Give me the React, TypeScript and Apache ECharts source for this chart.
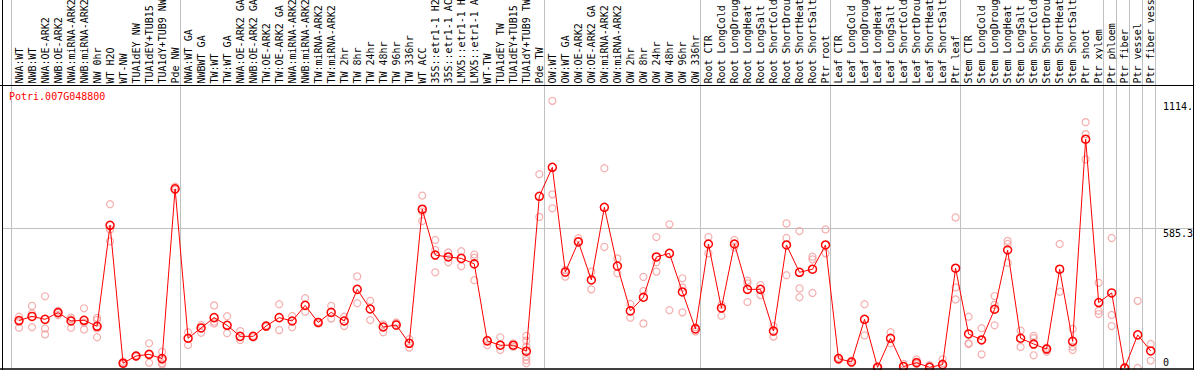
import React, { useEffect, useRef } from "react";
import * as echarts from "echarts";

const geneId = "Potri.007G048800";

const categories = [
  "NWA:WT", "NWB:WT", "NWA:OE-ARK2", "NWB:OE-ARK2", "NWA:miRNA-ARK2", "NWB:miRNA-ARK2",
  "NW 0hr", "WT H2O", "WT-NW", "TUA1dEY NW", "TUA1dEY+TUB15", "TUA1dY+TUB9 NW", "Pde NW",
  "NWA:WT GA", "NWBWT GA", "TW:WT", "TW:WT GA", "NWA:OE-ARK2 GA", "NWB:OE-ARK2 GA", "TW:OE-ARK2",
  "TW:OE-ARK2 GA", "NWA:miRNA-ARK2", "NWB:miRNA-ARK2", "TW:miRNA-ARK2", "TW:miRNA-ARK2",
  "TW 2hr", "TW 8hr", "TW 24hr", "TW 48hr", "TW 96hr", "TW 336hr", "WT ACC",
  "35S::etr1-1 H2", "35S::etr1-1 AC", "LMX5::etr1-1 H", "LMX5::etr1-1 A",
  "WT-TW", "TUA1dEY TW", "TUA1dEY+TUB15", "TUA1dY+TUB9 TW", "Pde TW",
  "OW:WT", "OW:WT GA", "OW:OE-ARK2", "OW:OE-ARK2 GA", "OW:miRNA-ARK2", "OW:miRNA-ARK2",
  "OW 2hr", "OW 8hr", "OW 24hr", "OW 48hr", "OW 96hr", "OW 336hr",
  "Root CTR", "Root LongCold", "Root LongDroug", "Root LongHeat", "Root LongSalt",
  "Root ShortCold", "Root ShortDrou", "Root ShortHeat", "Root ShortSalt", "Ptr root",
  "Leaf CTR", "Leaf LongCold", "Leaf LongDroug", "Leaf LongHeat", "Leaf LongSalt",
  "Leaf ShortCold", "Leaf ShortDrou", "Leaf ShortHeat", "Leaf ShortSalt", "Ptr leaf",
  "Stem CTR", "Stem LongCold", "Stem LongDroug", "Stem LongHeat", "Stem LongSalt",
  "Stem ShortCold", "Stem ShortDrou", "Stem ShortHeat", "Stem ShortSalt", "Ptr shoot", "Ptr xylem",
  "Ptr phloem", "Ptr fiber", "Ptr vessel", "Ptr fiber vess",
];

const means = [
  198, 215, 203, 231, 196, 199, 174, 595, 20, 50, 57, 39, 747,
  124, 167, 210, 178, 132, 132, 175, 210, 196, 261, 190, 232, 196, 328, 246, 171, 179, 103,
  662, 471, 463, 457, 434, 113, 95, 95, 70, 716,
  837, 400, 526, 367, 670, 425, 238, 295, 463, 478, 317, 163,
  517, 250, 517, 328, 328, 154, 513, 399, 412, 513,
  39, 25, 203, 3, 124, 6, 22, 3, 14, 416,
  142, 117, 245, 492, 124, 100, 79, 412, 111, 954, 273,
  313, 0, 138, 71,
];

const replicates: number[][] = [
  [214, 193, 168], [259, 227, 170], [299, 165, 140], [239, 231, 221], [210, 203, 168],
  [249, 189, 161], [209, 200, 165, 128], [683, 578, 528], [26, 17], [53, 47],
  [103, 57, 22], [68, 33, 20, 15], [756, 743],
  [149, 96], [179, 147], [261, 193, 186], [216, 145], [154, 117], [134, 128], [178, 172],
  [266, 158], [217, 170], [291, 235], [193, 186], [259, 206], [214, 175], [382, 270],
  [280, 200], [182, 149], [190, 186], [120, 85], [719, 652, 613], [534, 492, 399],
  [482, 441], [487, 424], [473, 460, 366], [118, 95], [128, 75], [103, 89],
  [134, 114, 89, 47, 33, 20], [808, 630],
  [1114, 724, 666], [409, 381], [541, 527], [402, 328], [833, 505], [457, 395],
  [267, 210], [380, 321, 186], [546, 441, 402], [599, 241], [374, 336, 232], [170, 152],
  [546, 478], [263, 218], [534, 503], [364, 353, 275], [346, 304], [175, 131],
  [603, 542, 387], [571, 332, 295], [464, 453, 313], [578, 478],
  [43, 33], [31, 20], [266, 136], [6, 2], [149, 103], [17, 8], [36, 26, 17], [12, 8],
  [36, 20], [628, 336, 286],
  [214, 103, 100], [166, 117, 57], [300, 263, 178], [530, 517, 439], [156, 88],
  [134, 124, 53], [85, 68], [517, 318], [163, 89, 75], [1025, 975, 870], [355, 239, 225],
  [542, 221, 175], [4, 0], [280, 0], [100, 31],
];

// category indices where a new sample group starts (last = end of axis)
const groupBoundaries = [0, 13, 41, 53, 63, 73, 84, 85, 86, 87, 88];

const yMax = 1180;
const yTickValues = [0, 585.3, 1114];
const yTickLabels = ["0", "585.3", "1114."];
const yGridValues = [585.3];

const FONT = '"DejaVu Sans Mono", monospace';

export default function App() {
  const ref = useRef<HTMLDivElement>(null);

  useEffect(() => {
    const chart = echarts.init(ref.current!, null, { renderer: "svg" });
    const repData: number[][] = [];
    replicates.forEach((reps, i) => reps.forEach((v) => repData.push([i, v])));
    const lastIdx = categories.length - 1;

    chart.setOption({
      animation: false,
      backgroundColor: "#ffffff",
      title: {
        text: geneId,
        left: 9,
        top: 91,
        padding: 0,
        textStyle: { color: "#ff0000", fontSize: 10, fontFamily: FONT, fontWeight: "normal" },
      },
      grid: { left: 12.5, right: 36.8, top: 85, bottom: 2, containLabel: false, outerBoundsMode: "none" },
      xAxis: {
        type: "category",
        position: "top",
        data: categories,
        boundaryGap: true,
        axisLine: { show: false },
        axisTick: { show: false },
        splitLine: { show: false },
        axisLabel: {
          interval: 0,
          rotate: 90,
          margin: 1.5,
          fontSize: 10,
          fontFamily: FONT,
          color: "#000000",
        },
      },
      yAxis: { type: "value", min: 0, max: yMax, show: false },
      series: [
        {
          type: "custom",
          name: "separators",
          clip: false,
          silent: true,
          z: 1,
          data: groupBoundaries.map((b) => [b, 0]),
          encode: { x: 0, y: 1 },
          renderItem: (params: any, api: any) => {
            const b = api.value(0);
            const idx = Math.min(b, lastIdx);
            const c = api.coord([idx, 0]);
            const bw = api.size([1, 0])[0];
            const raw = b > lastIdx ? c[0] + bw * 0.36 : c[0] - bw * 0.64;
            const x = Math.round(raw) + 0.5;
            return {
              type: "line",
              shape: { x1: x, y1: 0, x2: x, y2: c[1] },
              style: { stroke: "#c0c0c0", lineWidth: 1 },
            };
          },
        },
        {
          type: "custom",
          name: "yGrid",
          clip: false,
          silent: true,
          z: 1,
          data: yGridValues.map((v) => [0, v]),
          encode: { x: 0, y: 1 },
          renderItem: (params: any, api: any) => {
            const c = api.coord([0, api.value(1)]);
            const y = Math.round(c[1]) + 0.5;
            return {
              type: "line",
              shape: { x1: 3, y1: y, x2: 1193, y2: y },
              style: { stroke: "#c0c0c0", lineWidth: 1 },
            };
          },
        },
        {
          type: "scatter",
          name: "replicates",
          data: repData,
          symbol: "circle",
          symbolSize: 7,
          z: 3,
          itemStyle: { color: "rgba(255,255,255,0)", borderColor: "#f29a9a", borderWidth: 1.2 },
        },
        {
          type: "line",
          name: "mean",
          data: means,
          symbol: "circle",
          symbolSize: 8,
          z: 4,
          lineStyle: { color: "#ff0000", width: 1 },
          itemStyle: { color: "rgba(255,255,255,0)", borderColor: "#ff0000", borderWidth: 1.5 },
        },
        {
          type: "custom",
          name: "yTicks",
          clip: false,
          silent: true,
          z: 5,
          data: yTickValues.map((v, i) => [0, v, i]),
          encode: { x: 0, y: 1 },
          renderItem: (params: any, api: any) => {
            const v = api.value(1);
            const i = api.value(2);
            const c = api.coord([0, v]);
            const isZero = v === 0;
            return {
              type: "text",
              x: 1163,
              y: isZero ? c[1] - 1 : c[1] + 1,
              style: {
                text: yTickLabels[i],
                fill: "#000000",
                fontSize: 10,
                fontFamily: FONT,
                align: "left",
                verticalAlign: isZero ? "bottom" : "top",
              },
            };
          },
        },
      ],
      graphic: [
        { type: "line", z: 10, shape: { x1: 2.5, y1: 0, x2: 2.5, y2: 370 }, style: { stroke: "#000", lineWidth: 1 } },
        { type: "line", z: 10, shape: { x1: 1193.5, y1: 0, x2: 1193.5, y2: 370 }, style: { stroke: "#000", lineWidth: 1 } },
        { type: "line", z: 10, shape: { x1: 0, y1: 85.5, x2: 1194, y2: 85.5 }, style: { stroke: "#000", lineWidth: 1 } },
        { type: "line", z: 10, shape: { x1: 0, y1: 369, x2: 1194, y2: 369 }, style: { stroke: "#000", lineWidth: 1.5 } },
      ],
    });

    return () => chart.dispose();
  }, []);

  return (
    <div
      ref={ref}
      style={{ position: "absolute", left: 0, top: 0, width: 1194, height: 370, background: "#fff" }}
    />
  );
}
